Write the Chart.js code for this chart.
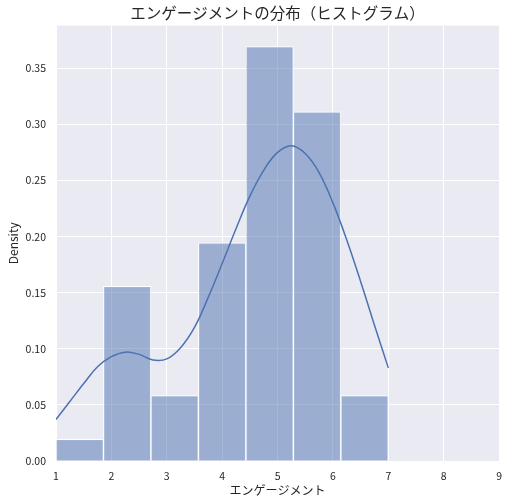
<!DOCTYPE html>
<html>
<head>
<meta charset="utf-8">
<script src="https://cdn.jsdelivr.net/npm/chart.js@4/dist/chart.umd.min.js"></script>
<style>
  body { margin: 0; background: #fff; }
  #wrap { width: 511px; height: 504px; }
</style>
</head>
<body>
<div id="wrap"><canvas id="histChart" width="511" height="504"></canvas></div>
<script>
// histogram bins (edges) and density per bin
const binEdges = [1, 1.857, 2.714, 3.571, 4.429, 5.286, 6.143, 7];
const densities = [0.0194, 0.1556, 0.0583, 0.1944, 0.3694, 0.3111, 0.0583];

// KDE curve
const kdeX = [1.00, 1.25, 1.50, 1.75, 2.00, 2.25, 2.50, 2.75, 3.00, 3.25, 3.50, 3.75, 4.00,
              4.25, 4.50, 4.75, 5.00, 5.25, 5.50, 5.75, 6.00, 6.25, 6.50, 6.75, 7.00];
const kdeY = [0.037, 0.053, 0.069, 0.084, 0.093, 0.097, 0.095, 0.090, 0.091, 0.101, 0.119, 0.146, 0.176,
              0.207, 0.236, 0.259, 0.275, 0.281, 0.274, 0.257, 0.230, 0.197, 0.160, 0.121, 0.083];

const yTicks = [0, 0.05, 0.10, 0.15, 0.20, 0.25, 0.30, 0.35];

const textColor = '#262626';
const fontFamily = '"Noto Sans CJK JP", "Noto Sans", sans-serif';

const barData = densities.map((d, i) => ({ x: (binEdges[i] + binEdges[i + 1]) / 2, y: d }));
const lineData = kdeX.map((x, i) => ({ x: x, y: kdeY[i] }));

// grey plot background like seaborn darkgrid
const plotBackground = {
    id: 'plotBackground',
    beforeDraw(chart) {
        const { ctx, chartArea } = chart;
        ctx.save();
        ctx.fillStyle = '#EAEAF2';
        ctx.fillRect(chartArea.left, chartArea.top, chartArea.right - chartArea.left, chartArea.bottom - chartArea.top);
        ctx.restore();
    }
};

const ctx = document.getElementById('histChart').getContext('2d');
const histChart = new Chart(ctx, {
    type: 'bar',
    data: {
        datasets: [
            {
                type: 'line',
                label: 'KDE',
                data: lineData,
                borderColor: '#4C72B0',
                borderWidth: 1.5,
                pointRadius: 0,
                tension: 0.4,
                fill: false,
                order: 0
            },
            {
                type: 'bar',
                label: 'Density',
                data: barData,
                backgroundColor: 'rgba(76, 114, 176, 0.5)',
                borderColor: '#ffffff',
                borderWidth: 1,
                barPercentage: 1,
                categoryPercentage: 1,
                grouped: false,
                order: 1
            }
        ]
    },
    options: {
        responsive: false,
        animation: false,
        layout: { padding: { left: 0, right: 10, top: 0, bottom: 0 } },
        plugins: {
            legend: { display: false },
            tooltip: { enabled: false },
            title: {
                display: true,
                text: 'エンゲージメントの分布（ヒストグラム）',
                color: textColor,
                fullSize: false,
                font: { family: fontFamily, size: 15.5, weight: 'normal' },
                padding: { top: 4, bottom: 3 }
            }
        },
        scales: {
            x: {
                type: 'linear',
                min: 1,
                max: 9,
                offset: false,
                grid: { color: '#ffffff', lineWidth: 1, drawTicks: false, offset: false },
                border: { display: false },
                ticks: {
                    stepSize: 1,
                    color: textColor,
                    padding: 9,
                    font: { family: fontFamily, size: 10.5 }
                },
                title: {
                    display: true,
                    text: 'エンゲージメント',
                    color: textColor,
                    font: { family: fontFamily, size: 12 },
                    padding: { top: 1, bottom: 6 }
                },
                afterFit: scale => { scale.height = 43; }
            },
            y: {
                min: 0,
                max: 0.388,
                grid: { color: '#ffffff', lineWidth: 1, drawTicks: false },
                border: { display: false },
                afterBuildTicks: scale => { scale.ticks = yTicks.map(v => ({ value: v })); },
                ticks: {
                    color: textColor,
                    padding: 10,
                    font: { family: fontFamily, size: 10.5 },
                    callback: v => v.toFixed(2)
                },
                title: {
                    display: true,
                    text: 'Density',
                    color: textColor,
                    font: { family: fontFamily, size: 12 },
                    padding: { top: 6, bottom: 0 }
                },
                afterFit: scale => { scale.width = 56; }
            }
        }
    },
    plugins: [plotBackground]
});
</script>
</body>
</html>
